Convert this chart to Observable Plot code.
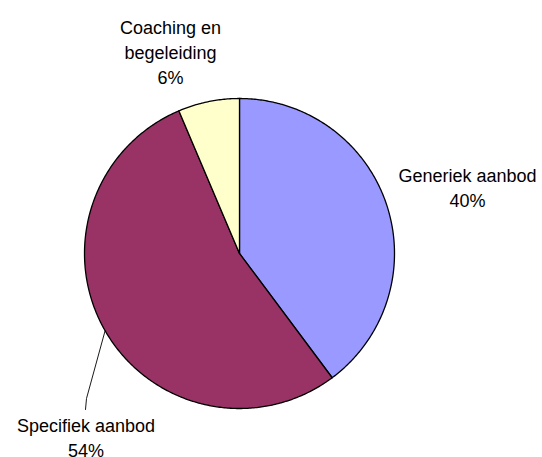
<!DOCTYPE html>
<html><head><meta charset="utf-8">
<script src="https://cdn.jsdelivr.net/npm/d3@7"></script>
<script src="https://cdn.jsdelivr.net/npm/@observablehq/plot@0.6"></script>
<style>html,body{margin:0;padding:0;background:#fff} svg{display:block}</style>
</head><body><div id="chart"></div>
<script>
// ---- data ----
const categories = ["Generiek aanbod", "Specifiek aanbod", "Coaching en\nbegeleiding"];
const values = [39.8, 53.8, 6.4];
const colors = ["#9999FF", "#993366", "#FFFFCC"];

// ---- layout ----
const W = 542, H = 457;
const cx = 239, cy = 253, R = 155;
const fontSize = 18, lineGap = 25;
// label anchor: centre x and baseline of last line (pixels)
const labelPos = [
  {x: 467, y: 206.7},
  {x: 85.5, y: 456.5},
  {x: 170, y: 83.3}
];
const leaderKnee = {x: 86, y: 398}, leaderEnd = {x: 85, y: 409};

// ---- geometry from data ----
const total = d3.sum(values);
const pie = d3.pie().sort(null).value(d => d)(values);
function pt(a, r = R) { return {x: cx + r * Math.sin(a), y: cy - r * Math.cos(a)}; }
const slices = pie.map((p, i) => {
  const pts = [{x: cx, y: cy}];
  const n = Math.max(4, Math.ceil((p.endAngle - p.startAngle) / 0.01));
  for (let k = 0; k <= n; k++) pts.push(pt(p.startAngle + (p.endAngle - p.startAngle) * k / n));
  pts.push({x: cx, y: cy});
  return {pts, color: colors[i]};
});
const labels = categories.map((c, i) => ({
  text: c + "\n" + Math.round(values[i] / total * 100) + "%",
  x: labelPos[i].x, y: labelPos[i].y
}));
const sp = pie[1];
const leader = [pt((sp.startAngle + sp.endAngle) / 2), leaderKnee, leaderEnd];

const chart = Plot.plot({
  width: W, height: H, margin: 0,
  x: {domain: [0, W], range: [0, W], axis: null},
  y: {domain: [0, H], range: [0, H], axis: null},
  style: {background: "#fff", fontFamily: "'Liberation Sans', Arial, sans-serif"},
  marks: [
    ...slices.map(s => Plot.line(s.pts, {x: "x", y: "y", fill: s.color, stroke: "#000", strokeWidth: 1.3, strokeLinejoin: "round"})),
    Plot.line(leader, {x: "x", y: "y", stroke: "#000", strokeWidth: 0.9}),
    Plot.text(labels, {x: "x", y: "y", text: "text", fontSize, lineHeight: lineGap / fontSize, lineAnchor: "bottom", textAnchor: "middle", fill: "#000"})
  ]
});
document.getElementById("chart").appendChild(chart);
</script>
</body></html>
